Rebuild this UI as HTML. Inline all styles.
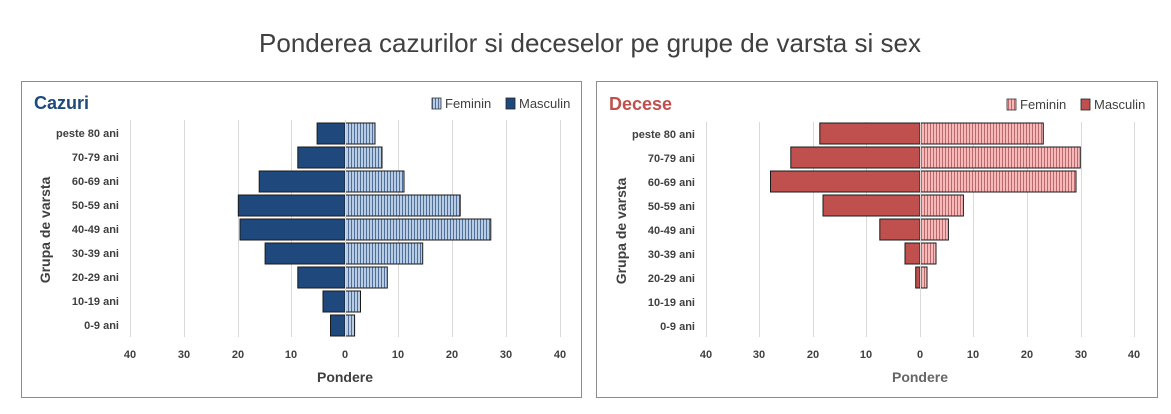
<!DOCTYPE html>
<html><head><meta charset="utf-8"><style>
html,body{margin:0;padding:0;background:#fff;}
svg{display:block;font-family:"Liberation Sans",sans-serif;}
</style></head><body>
<svg width="1171" height="414" viewBox="0 0 1171 414" xmlns="http://www.w3.org/2000/svg">
<defs>
<pattern id="pb" width="3" height="10" patternUnits="userSpaceOnUse"><rect width="3" height="10" fill="#b8cce4"/><rect width="1" height="10" fill="#4f6e9a"/></pattern>
<pattern id="pp" width="3" height="10" patternUnits="userSpaceOnUse"><rect width="3" height="10" fill="#f6b8b8"/><rect width="1" height="10" fill="#b86a6a"/></pattern>
</defs>
<rect width="1171" height="414" fill="#fff"/>
<text x="590" y="52" text-anchor="middle" font-size="26" fill="#404040">Ponderea cazurilor si deceselor pe grupe de varsta si sex</text>

<!-- LEFT PANEL -->
<rect x="21.5" y="81.5" width="560" height="316" fill="#fff" stroke="#8c8c8c"/>
<text x="34" y="109" font-size="18" font-weight="bold" fill="#1f497d">Cazuri</text>
<rect x="432" y="98" width="9" height="11" fill="url(#pb)" stroke="#333" stroke-width="0.8"/>
<text x="445" y="108" font-size="13" fill="#404040">Feminin</text>
<rect x="506" y="98" width="9" height="11" fill="#1f497d" stroke="#222" stroke-width="0.8"/>
<text x="519" y="108" font-size="13" fill="#404040">Masculin</text>
<g stroke="#d9d9d9" stroke-width="1">
<line x1="130.5" y1="120" x2="130.5" y2="337"/><line x1="184.5" y1="120" x2="184.5" y2="337"/><line x1="238.5" y1="120" x2="238.5" y2="337"/><line x1="291.5" y1="120" x2="291.5" y2="337"/><line x1="398.5" y1="120" x2="398.5" y2="337"/><line x1="452.5" y1="120" x2="452.5" y2="337"/><line x1="506.5" y1="120" x2="506.5" y2="337"/><line x1="560.5" y1="120" x2="560.5" y2="337"/>
</g>
<g stroke="#1a1a1a" stroke-width="1">
<rect x="317.1" y="123" width="27.9" height="21" fill="#1f497d"/>
<rect x="297.8" y="147" width="47.2" height="21" fill="#1f497d"/>
<rect x="259.2" y="171" width="85.8" height="21" fill="#1f497d"/>
<rect x="238.3" y="195" width="106.7" height="21" fill="#1f497d"/>
<rect x="240" y="219" width="105" height="21" fill="#1f497d"/>
<rect x="265.1" y="243" width="79.9" height="21" fill="#1f497d"/>
<rect x="297.8" y="267" width="47.2" height="21" fill="#1f497d"/>
<rect x="323" y="291" width="22" height="21" fill="#1f497d"/>
<rect x="330.5" y="315" width="14.5" height="21" fill="#1f497d"/>
<rect x="345" y="123" width="30" height="21" fill="url(#pb)"/>
<rect x="345" y="147" width="37" height="21" fill="url(#pb)"/>
<rect x="345" y="171" width="59" height="21" fill="url(#pb)"/>
<rect x="345" y="195" width="115.2" height="21" fill="url(#pb)"/>
<rect x="345" y="219" width="145.8" height="21" fill="url(#pb)"/>
<rect x="345" y="243" width="77.7" height="21" fill="url(#pb)"/>
<rect x="345" y="267" width="42.3" height="21" fill="url(#pb)"/>
<rect x="345" y="291" width="15.5" height="21" fill="url(#pb)"/>
<rect x="345" y="315" width="9.6" height="21" fill="url(#pb)"/>
</g>
<line x1="345.5" y1="120" x2="345.5" y2="337" stroke="#d9d9d9"/>
<g font-size="11" font-weight="bold" fill="#404040" text-anchor="end">
<text x="119" y="137">peste 80 ani</text><text x="119" y="161">70-79 ani</text><text x="119" y="185">60-69 ani</text><text x="119" y="209">50-59 ani</text><text x="119" y="233">40-49 ani</text><text x="119" y="257">30-39 ani</text><text x="119" y="281">20-29 ani</text><text x="119" y="305">10-19 ani</text><text x="119" y="329">0-9 ani</text>
</g>
<g font-size="11" font-weight="bold" fill="#404040" text-anchor="middle">
<text x="130" y="358">40</text><text x="184" y="358">30</text><text x="238" y="358">20</text><text x="291" y="358">10</text><text x="345" y="358">0</text><text x="398" y="358">10</text><text x="452" y="358">20</text><text x="506" y="358">30</text><text x="560" y="358">40</text>
</g>
<text x="345" y="382" font-size="14" font-weight="bold" fill="#404040" text-anchor="middle">Pondere</text>
<text transform="translate(50,230) rotate(-90)" font-size="14" font-weight="bold" fill="#404040" text-anchor="middle">Grupa de varsta</text>

<!-- RIGHT PANEL -->
<rect x="596.5" y="81.5" width="561" height="316" fill="#fff" stroke="#8c8c8c"/>
<text x="609" y="110" font-size="18" font-weight="bold" fill="#c0504d">Decese</text>
<rect x="1007" y="99" width="9" height="11" fill="url(#pp)" stroke="#333" stroke-width="0.8"/>
<text x="1020" y="109" font-size="13" fill="#404040">Feminin</text>
<rect x="1081" y="99" width="9" height="11" fill="#c0504d" stroke="#222" stroke-width="0.8"/>
<text x="1094" y="109" font-size="13" fill="#404040">Masculin</text>
<g stroke="#d9d9d9" stroke-width="1">
<line x1="706.5" y1="122" x2="706.5" y2="337"/><line x1="759.5" y1="122" x2="759.5" y2="337"/><line x1="813.5" y1="122" x2="813.5" y2="337"/><line x1="866.5" y1="122" x2="866.5" y2="337"/><line x1="973.5" y1="122" x2="973.5" y2="337"/><line x1="1027.5" y1="122" x2="1027.5" y2="337"/><line x1="1081.5" y1="122" x2="1081.5" y2="337"/><line x1="1134.5" y1="122" x2="1134.5" y2="337"/>
</g>
<g stroke="#1a1a1a" stroke-width="1">
<rect x="819.8" y="123" width="100.2" height="21" fill="#c0504d"/>
<rect x="790.8" y="147" width="129.2" height="21" fill="#c0504d"/>
<rect x="770.5" y="171" width="149.5" height="21" fill="#c0504d"/>
<rect x="823" y="195" width="97" height="21" fill="#c0504d"/>
<rect x="879.8" y="219" width="40.2" height="21" fill="#c0504d"/>
<rect x="905" y="243" width="15" height="21" fill="#c0504d"/>
<rect x="915.7" y="267" width="4.3" height="21" fill="#c0504d"/>
<rect x="920" y="123" width="123.3" height="21" fill="url(#pp)"/>
<rect x="920" y="147" width="160.3" height="21" fill="url(#pp)"/>
<rect x="920" y="171" width="156" height="21" fill="url(#pp)"/>
<rect x="920" y="195" width="43.4" height="21" fill="url(#pp)"/>
<rect x="920" y="219" width="28.4" height="21" fill="url(#pp)"/>
<rect x="920" y="243" width="16" height="21" fill="url(#pp)"/>
<rect x="920" y="267" width="7" height="21" fill="url(#pp)"/>
</g>
<line x1="920.5" y1="122" x2="920.5" y2="337" stroke="#d9d9d9"/>
<g font-size="11" font-weight="bold" fill="#404040" text-anchor="end">
<text x="695" y="138">peste 80 ani</text><text x="695" y="162">70-79 ani</text><text x="695" y="186">60-69 ani</text><text x="695" y="210">50-59 ani</text><text x="695" y="234">40-49 ani</text><text x="695" y="258">30-39 ani</text><text x="695" y="282">20-29 ani</text><text x="695" y="306">10-19 ani</text><text x="695" y="330">0-9 ani</text>
</g>
<g font-size="11" font-weight="bold" fill="#404040" text-anchor="middle">
<text x="706" y="358">40</text><text x="759" y="358">30</text><text x="813" y="358">20</text><text x="866" y="358">10</text><text x="920" y="358">0</text><text x="973" y="358">10</text><text x="1027" y="358">20</text><text x="1081" y="358">30</text><text x="1134" y="358">40</text>
</g>
<text x="920" y="382" font-size="14" font-weight="bold" fill="#666" text-anchor="middle">Pondere</text>
<text transform="translate(626,231) rotate(-90)" font-size="14" font-weight="bold" fill="#404040" text-anchor="middle">Grupa de varsta</text>
</svg>
</body></html>
